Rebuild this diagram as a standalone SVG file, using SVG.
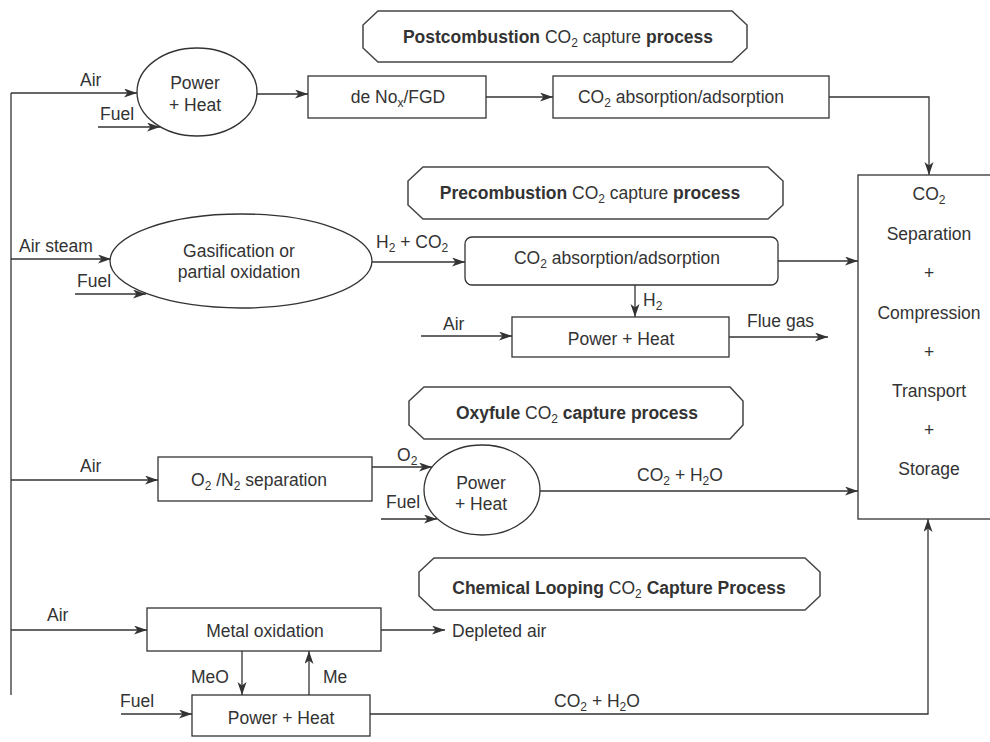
<svg xmlns="http://www.w3.org/2000/svg" width="990" height="742" viewBox="0 0 990 742">
<defs>
<marker id="ah" markerUnits="userSpaceOnUse" markerWidth="14" markerHeight="10" refX="13" refY="4.5" orient="auto">
<path d="M0,0 L13,4.5 L0,9 L3.5,4.5 Z" fill="#333"/>
</marker>
<style>
text{font-family:"Liberation Sans",Arial,sans-serif;font-size:17.5px;fill:#333}
.c{text-anchor:middle}
.b{font-weight:bold}
.n{font-weight:normal}
.box{fill:#fff;stroke:#333;stroke-width:1.3}
.ban{fill:#fff;stroke:#444;stroke-width:1.5}
.ln{fill:none;stroke:#333;stroke-width:1.3}
.ar{marker-end:url(#ah)}
.s{font-size:12px}
</style>
</defs>
<rect width="990" height="742" fill="#fff"/>

<g id="connectors">
<path class="ln" d="M11,93 V695"/>
<path class="ln ar" d="M11,93 H137"/>
<path class="ln ar" d="M98,127 H160"/>
<path class="ln ar" d="M257,94 H308"/>
<path class="ln ar" d="M486,97 H553"/>
<path class="ln ar" d="M829,97 H929 V175"/>
<path class="ln ar" d="M11,259 H111"/>
<path class="ln ar" d="M75,294 H146"/>
<path class="ln ar" d="M372,262 H465"/>
<path class="ln ar" d="M778,261 H858"/>
<path class="ln ar" d="M635,285 V317"/>
<path class="ln ar" d="M421,336 H512"/>
<path class="ln ar" d="M729,337 H828"/>
<path class="ln ar" d="M11,480 H158"/>
<path class="ln ar" d="M372,467 H432"/>
<path class="ln ar" d="M381,519 H437"/>
<path class="ln ar" d="M540,491 H858"/>
<path class="ln ar" d="M11,630 H147"/>
<path class="ln ar" d="M381,630 H445"/>
<path class="ln ar" d="M242,651 V695"/>
<path class="ln ar" d="M309,695 V651"/>
<path class="ln ar" d="M121,714 H192"/>
<path class="ln ar" d="M370,714 H928 V519"/>
</g>

<g id="labels">
<text x="80" y="86">Air</text>
<text x="100" y="120">Fuel</text>
<text x="19" y="252">Air steam</text>
<text x="77" y="287">Fuel</text>
<text x="376" y="248">H<tspan class="s" dy="4">2</tspan><tspan dy="-4"> + CO</tspan><tspan class="s" dy="4">2</tspan></text>
<text x="643" y="306">H<tspan class="s" dy="4">2</tspan></text>
<text x="443" y="330">Air</text>
<text x="747" y="327">Flue gas</text>
<text x="80" y="472">Air</text>
<text x="397" y="461">O<tspan class="s" dy="4">2</tspan></text>
<text x="386" y="508">Fuel</text>
<text class="c" x="680" y="481">CO<tspan class="s" dy="4">2</tspan><tspan dy="-4"> + H</tspan><tspan class="s" dy="4">2</tspan><tspan dy="-4">O</tspan></text>
<text x="47" y="621">Air</text>
<text x="452" y="637">Depleted air</text>
<text x="191" y="683">MeO</text>
<text x="323" y="683">Me</text>
<text x="120" y="707">Fuel</text>
<text class="c" x="597" y="707">CO<tspan class="s" dy="4">2</tspan><tspan dy="-4"> + H</tspan><tspan class="s" dy="4">2</tspan><tspan dy="-4">O</tspan></text>
</g>

<g id="banner-post">
<path class="ban" d="M378,11 L732,11 L747,25 L747,48 L732,62 L378,62 L363,48 L363,25 Z"/>
<text class="c b" x="558" y="43">Postcombustion <tspan class="n">CO</tspan><tspan class="n s" dy="4">2</tspan><tspan class="n" dy="-4"> capture </tspan>process</text>
</g>

<g id="power-heat-1">
<ellipse class="box" cx="197" cy="92" rx="60" ry="44"/>
<text class="c" x="195" y="89">Power</text>
<text class="c" x="195" y="111">+ Heat</text>
</g>

<g id="denox">
<rect class="box" x="308" y="76" width="178" height="42"/>
<text class="c" x="398" y="103">de No<tspan class="s" dy="4">x</tspan><tspan dy="-4">/FGD</tspan></text>
</g>

<g id="absorption-1">
<rect class="box" x="553" y="76" width="276" height="42"/>
<text class="c" x="681" y="103">CO<tspan class="s" dy="4">2</tspan><tspan dy="-4"> absorption/adsorption</tspan></text>
</g>

<g id="banner-pre">
<path class="ban" d="M423,167 L768,167 L783,181 L783,205 L768,219 L423,219 L408,205 L408,181 Z"/>
<text class="c b" x="590" y="199">Precombustion <tspan class="n">CO</tspan><tspan class="n s" dy="4">2</tspan><tspan class="n" dy="-4"> capture </tspan>process</text>
</g>

<g id="gasification">
<ellipse class="box" cx="241" cy="261" rx="131" ry="47"/>
<text class="c" x="239" y="257">Gasification or</text>
<text class="c" x="239" y="278">partial oxidation</text>
</g>

<g id="absorption-2">
<rect class="box" x="465" y="237" width="313" height="48" rx="7"/>
<text class="c" x="617" y="264">CO<tspan class="s" dy="4">2</tspan><tspan dy="-4"> absorption/adsorption</tspan></text>
</g>

<g id="power-heat-2">
<rect class="box" x="512" y="317" width="217" height="40"/>
<text class="c" x="621" y="345">Power + Heat</text>
</g>

<g id="storage">
<rect class="box" x="858" y="175" width="150" height="344"/>
<text class="c" x="929" y="200">CO<tspan class="s" dy="4">2</tspan></text>
<text class="c" x="929" y="240">Separation</text>
<text class="c" x="929" y="279">+</text>
<text class="c" x="929" y="319">Compression</text>
<text class="c" x="929" y="358">+</text>
<text class="c" x="929" y="397">Transport</text>
<text class="c" x="929" y="436">+</text>
<text class="c" x="929" y="475">Storage</text>
</g>

<g id="banner-oxy">
<path class="ban" d="M424,387 L730,387 L743,401 L743,425 L730,439 L424,439 L409,425 L409,401 Z"/>
<text class="c b" x="577" y="419">Oxyfule <tspan class="n">CO</tspan><tspan class="n s" dy="4">2</tspan><tspan dy="-4"> capture process</tspan></text>
</g>

<g id="separation">
<rect class="box" x="158" y="457" width="214" height="44"/>
<text class="c" x="259" y="486">O<tspan class="s" dy="4">2</tspan><tspan dy="-4"> /N</tspan><tspan class="s" dy="4">2</tspan><tspan dy="-4"> separation</tspan></text>
</g>

<g id="power-heat-3">
<ellipse class="box" cx="482" cy="490" rx="58" ry="45"/>
<text class="c" x="481" y="489">Power</text>
<text class="c" x="481" y="510">+ Heat</text>
</g>

<g id="banner-chem">
<path class="ban" d="M434,558 L805,558 L820,572 L820,596 L805,610 L434,610 L419,596 L419,572 Z"/>
<text class="c b" x="619" y="594">Chemical Looping <tspan class="n">CO</tspan><tspan class="n s" dy="4">2</tspan><tspan dy="-4"> Capture Process</tspan></text>
</g>

<g id="metal-oxidation">
<rect class="box" x="147" y="608" width="234" height="43"/>
<text class="c" x="265" y="637">Metal oxidation</text>
</g>

<g id="power-heat-4">
<rect class="box" x="192" y="695" width="178" height="41"/>
<text class="c" x="281" y="724">Power + Heat</text>
</g>
</svg>
